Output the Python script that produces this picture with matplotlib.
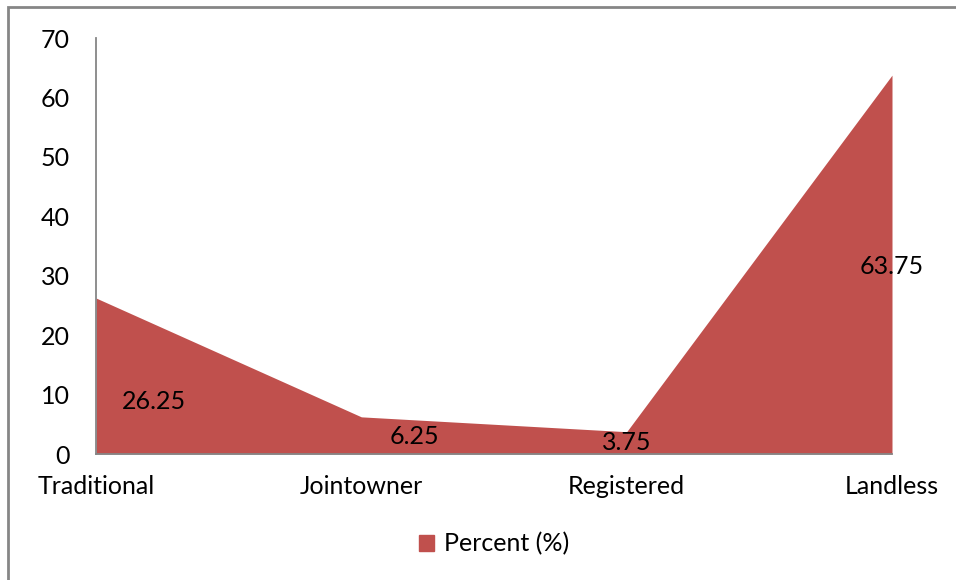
import numpy as np
import matplotlib.pyplot as plt
from matplotlib.patches import Patch, Rectangle

categories = ["Traditional", "Jointowner", "Registered", "Landless"]
percent = [26.25, 6.25, 3.75, 63.75]
yticks = [0, 10, 20, 30, 40, 50, 60, 70]

# where each value label sits (x in category units, y in data units)
label_x = [0.22, 1.2, 2.0, 3.0]
label_y = [8.9, 3.0, 2.0, 31.6]

red = "#C0504D"
grey = "#868686"
fs = 18
plt.rcParams['font.family'] = ['Lato', 'DejaVu Sans']

fig = plt.figure(figsize=(9.56, 5.8), dpi=100)
ax = fig.add_axes([96 / 956, 1 - 454 / 580, (892 - 96) / 956, (454 - 38) / 580])

x = np.arange(len(categories))
ax.fill_between(x, 0, percent, color=red, linewidth=0, zorder=2)

for lx, ly, v in zip(label_x, label_y, percent):
    ax.text(lx, ly, f"{v:g}", ha="center", va="center", fontsize=fs, color="black", zorder=3)

ax.set_xlim(0, 3)
ax.set_ylim(0, 70)
ax.set_yticks(yticks)
ax.set_xticks(x)
ax.set_xticklabels(categories)
ax.tick_params(axis="both", length=0, labelsize=fs, colors="black")
ax.tick_params(axis="y", pad=19)
ax.tick_params(axis="x", pad=15)

for s in ["top", "right"]:
    ax.spines[s].set_visible(False)
for s in ["left", "bottom"]:
    ax.spines[s].set_color(grey)
    ax.spines[s].set_linewidth(1.3)
    ax.spines[s].set_zorder(4)

fig.legend(handles=[Patch(color=red, label="Percent (%)")], loc="center",
           bbox_to_anchor=(494 / 956, 1 - 544 / 580), frameon=False, fontsize=fs,
           handlelength=0.6, handleheight=0.6, handletextpad=0.4)

# outer chart border
fig.patches.append(Rectangle((8 / 956, -0.1), 1.2, 1 - 7 / 580 + 0.1, transform=fig.transFigure,
                             fill=False, edgecolor=grey, linewidth=2))

fig.savefig("out.png", dpi=100)
